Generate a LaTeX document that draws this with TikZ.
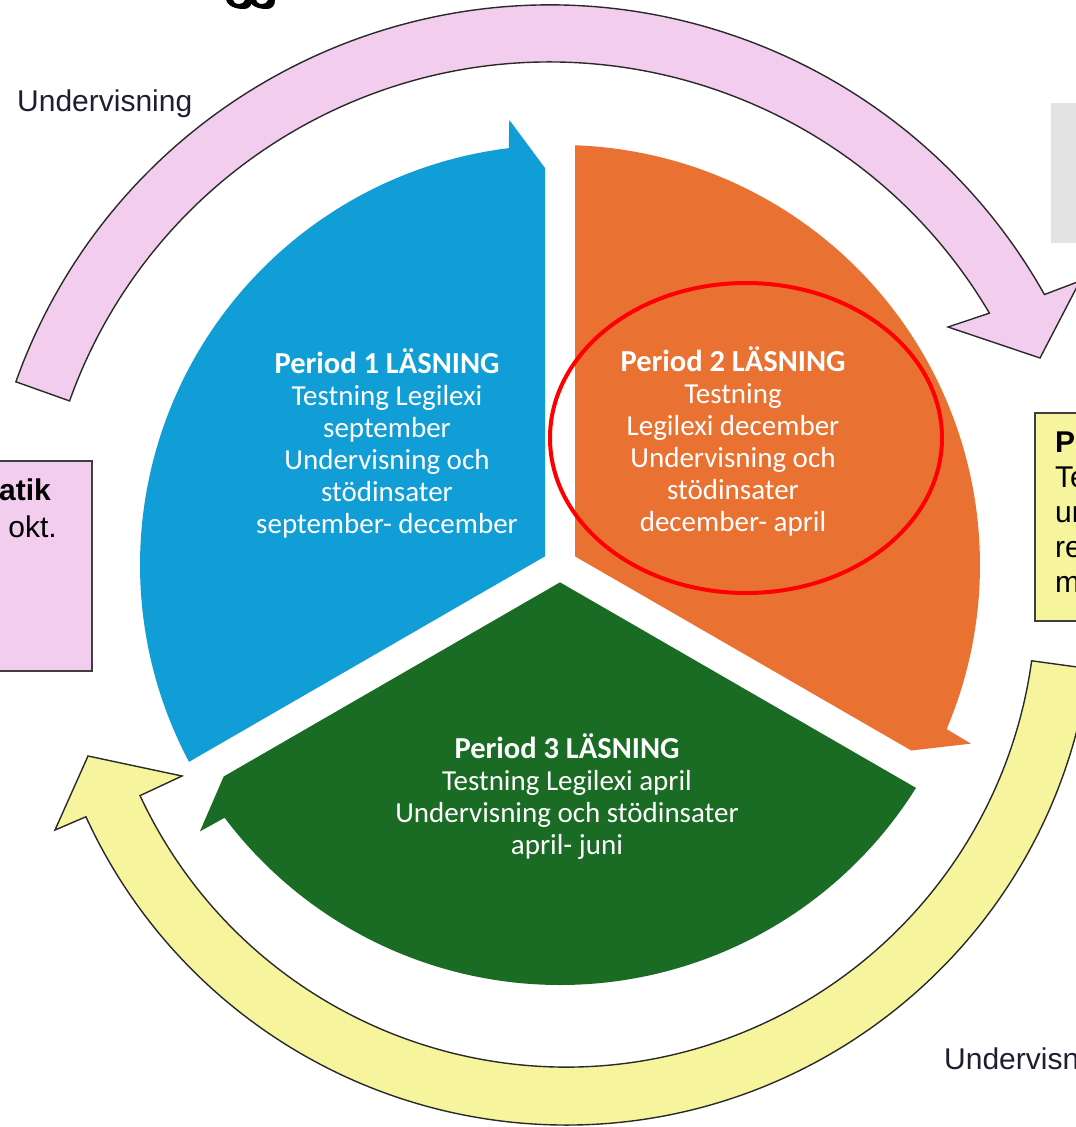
\documentclass[tikz,border=0pt]{standalone}
\usepackage{fontspec}
\setmainfont{Liberation Sans}
\newfontfamily\carl{Carlito}
\usetikzlibrary{calc}
\definecolor{pblue}{HTML}{119ED6}
\definecolor{porange}{HTML}{E97132}
\definecolor{pgreen}{HTML}{1A6B24}
\definecolor{pinkf}{HTML}{F2CDEE}
\definecolor{yelf}{HTML}{F6F59D}
\definecolor{grayf}{HTML}{E3E3E3}
\definecolor{bandline}{HTML}{2A2A2A}
\definecolor{lbltxt}{HTML}{1E1E32}
\newcommand\sectorarrow[2]{%
  \fill[#1] ($(C)+(#2+60:17.32)$) -- ($(C)+(#2+117.95:420)$)
    arc[start angle=#2+117.95, end angle=#2+7, radius=420]
    -- ($(C)+(#2+6.5:448)$) -- ($(C)+(#2:397)+(#2+90:15)$) -- cycle;}
\begin{document}
\begin{tikzpicture}[x=1pt,y=1pt,
  sectxt/.style={text=white, font=\carl\fontsize{29}{32}\selectfont, align=center, inner sep=0pt},
  lbl/.style={text=lbltxt, font=\fontsize{30}{36}\selectfont, inner sep=0pt},
  boxtxt/.style={text=black, font=\fontsize{30}{36}\selectfont, inner sep=0pt},
  bandstyle/.style={draw=bandline, line width=1.4pt},
  sidebox/.style={draw=bandline!90, line width=2pt, inner sep=0pt, anchor=north west}]
\useasboundingbox (0,0) rectangle (1076,-1127);
\fill[white] (0,0) rectangle (1076,-1127);
\coordinate (C) at (560,-565);
\coordinate (Cp) at (550,-572);
\coordinate (Cy) at (566,-597);
% fragments of a cut-off title at the top edge
\fill[black] (226,2) .. controls (226,-6) and (236,-9) .. (243,-9) .. controls (250,-9) and (252,-5) .. (252,0) -- (245,0) .. controls (244,-3) and (242,-4) .. (239,-4) .. controls (235,-4) and (233,-2) .. (233,2) -- cycle;
\fill[black] (249,2) .. controls (249,-6) and (259,-9) .. (266,-9) .. controls (273,-9) and (275,-5) .. (275,0) -- (268,0) .. controls (267,-3) and (265,-4) .. (262,-4) .. controls (258,-4) and (256,-2) .. (256,2) -- cycle;
% outer bands
\filldraw[bandstyle, fill=pinkf] ($(Cp)+(160.4:510)$) -- ($(Cp)+(160.4:567)$)
  arc[start angle=160.4, end angle=29.3, radius=567]
  -- (1080,-281) -- (1040,-358) -- (948,-327) -- ($(Cp)+(30.5:510)$)
  arc[start angle=30.5, end angle=160.4, radius=510] -- cycle;
\filldraw[bandstyle, fill=yelf] ($(Cy)+(-7.8:470)$) -- ($(Cy)+(-7.8:528)$)
  arc[start angle=-7.8, end angle=-155.4, radius=528]
  -- (55,-830) -- (88,-756) -- (182,-776) -- ($(Cy)+(-155:470)$)
  arc[start angle=-155, end angle=-7.8, radius=470] -- cycle;
% side boxes
\node[sidebox, fill=pinkf, minimum width=96pt, minimum height=210pt] (lbox) at (-5,-460) {};
\node[sidebox, fill=yelf, minimum width=60pt, minimum height=208pt] (rbox) at (1034,-412) {};
\node[fill=grayf, inner sep=0pt, anchor=north west, minimum width=40pt, minimum height=140pt] (gbox) at (1051,-103) {};
% sectors
\sectorarrow{pblue}{90}
\sectorarrow{porange}{330}
\sectorarrow{pgreen}{210}
% sector texts
\node[sectxt] (t1) at (387,-443) {{\fontsize{30.5}{32}\selectfont\textbf{Period 1 LÄSNING}}\\Testning Legilexi\\september\\Undervisning och\\stödinsater\\september- december};
\node[sectxt] (t2) at (733,-441) {{\fontsize{30.5}{32}\selectfont\textbf{Period 2 LÄSNING}}\\Testning\\Legilexi december\\Undervisning och\\stödinsater\\december- april};
\node[sectxt] (t3) at (567,-797) {{\fontsize{30.5}{32}\selectfont\textbf{Period 3 LÄSNING}}\\Testning Legilexi april\\Undervisning och stödinsater\\april- juni};
% labels
\node[lbl, anchor=base west] (u1) at (17,-111) {Undervisning};
\node[lbl, anchor=base west] (u2) at (944,-1069) {Undervisn};
\node[boxtxt, anchor=base east, font=\bfseries\fontsize{30}{36}\selectfont] (la) at (51,-500) {atik};
\node[boxtxt, anchor=base east] (lb) at (57,-537) {okt.};
\node[boxtxt, anchor=base west, font=\bfseries\fontsize{30}{36}\selectfont] (r1) at (1055,-452) {P};
\node[boxtxt, anchor=base west] (r2) at (1055,-487) {Te};
\node[boxtxt, anchor=base west] (r3) at (1055,-522) {un};
\node[boxtxt, anchor=base west] (r4) at (1055,-557) {re};
\node[boxtxt, anchor=base west] (r5) at (1055,-592) {m};
% highlight
\draw[red, line width=4pt] (746,-438) ellipse[x radius=196, y radius=155];
\end{tikzpicture}
\end{document}
